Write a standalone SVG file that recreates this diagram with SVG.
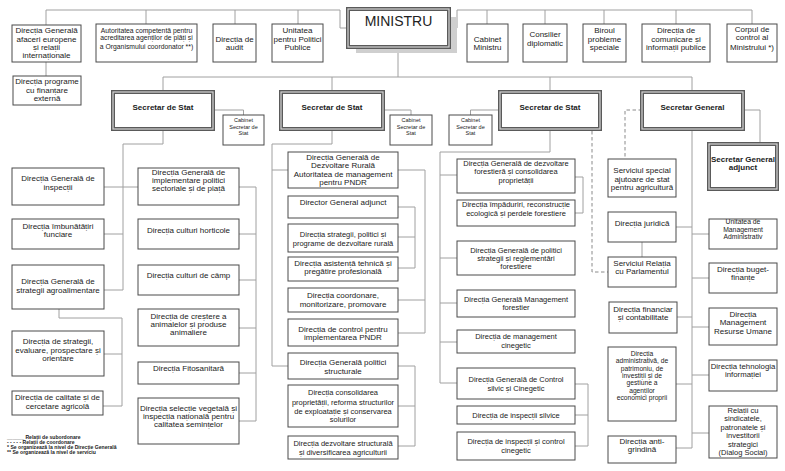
<svg xmlns="http://www.w3.org/2000/svg" width="785" height="471" viewBox="0 0 785 471">
<style>
.b{fill:#fff;stroke:#4a4a4a;stroke-width:1}
.k{fill:#fff;stroke:#5a5a5a;stroke-width:4}
.ki{fill:none;stroke:#d4d4d4;stroke-width:1.2}
.c path{fill:none;stroke:#a0a0a0;stroke-width:1}
.c path.d{stroke-dasharray:3.5 2.5;stroke:#8a8a8a}
text{font-family:"Liberation Sans",Arial,sans-serif;font-size:8px;fill:#222;text-anchor:middle}
.s{font-size:6.8px}
.m{font-size:7.5px}
.a{font-size:6.7px}
.xs{font-size:5.5px}
.h{font-weight:bold}
.lg{font-size:5.1px;font-weight:bold;text-anchor:start}
</style>
<rect width="785" height="471" fill="#fff"/>
<g id="connectors" class="c">
<path d="M46,10H340V28H348"/>
<path d="M46,10V25 M146,10V24 M235,10V24 M298,10V24 M46,62V76"/>
<path d="M457,28V10H752 M487,10V24 M545,10V24 M604,10V24 M676,10V24 M752,10V24"/>
<path d="M398,47V77 M163,77H692 M163,77V92 M332,77V92 M550,77V92 M692,77V92"/>
<path d="M163,129V144H123V290 M104,187H138 M104,234H123 M104,290H123 M213,110H243.5V115"/>
<path d="M239,187H256V421 M239,234H256 M239,280H256 M239,328H256 M239,373H256 M239,421H256"/>
<path d="M59,309V318H122V406 M104,354H122 M103,406H122"/>
<path d="M332,129V144H272V366 M272,170H288 M272,366H288 M383,110H411V115"/>
<path d="M398,170H425V333 M398,300H425 M398,333H425"/>
<path d="M398,207H415V268 M398,237H415 M398,268H415"/>
<path d="M398,366H415V446 M398,406H415 M398,446H415"/>
<path d="M550,129V152H440V383 M440,175H457 M440,258H457 M440,303H457 M440,342H457 M440,383H457 M500,110H470.5V115"/>
<path d="M575,177H583V213H575"/>
<path d="M575,384H588V446H575 M575,415H588"/>
<path d="M692,129V448 M676,227H692 M676,317H692 M676,384H692 M676,448H692 M692,234H709 M692,278H709 M692,327H709 M692,375H709 M692,433H709 M743,110H760V144 M642,242V257"/>
<path class="d" d="M642,110H625V159 M592,131V272H608"/>
</g>

<g id="n-dg-afaceri"><rect class="b" x="12" y="25" width="69" height="37"/><text x="46.5" y="33">Direcția Generală</text><text x="46.5" y="41.5">afaceri europene</text><text x="46.5" y="49.5">și relații</text><text x="46.5" y="57.5">internaționale</text></g>
<g id="n-programe"><rect class="b" x="13" y="76" width="68" height="29"/><text x="47" y="84">Direcția programe</text><text x="47" y="92.5">cu finanțare</text><text x="47" y="101">externă</text></g>
<g id="n-autoritatea"><rect class="b" x="96" y="24" width="101" height="38"/><text class="s" x="146.5" y="32.5">Autoritatea competentă pentru</text><text class="s" x="146.5" y="40">acreditarea agenților de plăți și</text><text class="s" x="146.5" y="48.5">a Organismului coordonator **)</text></g>
<g id="n-audit"><rect class="b" x="213" y="24" width="43" height="38"/><text x="234.5" y="41.5">Direcția de</text><text x="234.5" y="50">audit</text></g>
<g id="n-upp"><rect class="b" x="272" y="24" width="51" height="38"/><text x="297.5" y="33">Unitatea</text><text x="297.5" y="41.5">pentru Politici</text><text x="297.5" y="50">Publice</text></g>
<g id="n-ministru"><rect x="356" y="17" width="101" height="36" fill="#cfcfcf"/><rect class="k" x="348" y="9" width="101" height="38"/><rect class="ki" x="348" y="9" width="101" height="38"/><text x="398.5" y="26" style="font-size:14px">MINISTRU</text></g>
<g id="n-cabinet-ministru"><rect class="b" x="467" y="24" width="41" height="38"/><text x="487.5" y="41.5">Cabinet</text><text x="487.5" y="50">Ministru</text></g>
<g id="n-consilier"><rect class="b" x="523" y="24" width="44" height="38"/><text x="545" y="37">Consilier</text><text x="545" y="45.5">diplomatic</text></g>
<g id="n-biroul"><rect class="b" x="583" y="24" width="43" height="38"/><text x="604.5" y="33">Biroul</text><text x="604.5" y="41.5">probleme</text><text x="604.5" y="50">speciale</text></g>
<g id="n-comunicare"><rect class="b" x="642" y="24" width="68" height="38"/><text x="676" y="33">Direcția de</text><text x="676" y="41.5">comunicare și</text><text x="676" y="50">informații publice</text></g>
<g id="n-corpul"><rect class="b" x="727" y="24" width="50" height="38"/><text x="752" y="32">Corpul de</text><text x="752" y="40">control al</text><text x="752" y="50">Ministrului *)</text></g>

<g id="n-ss1"><rect class="k" x="113" y="92" width="100" height="37"/><rect class="ki" x="113" y="92" width="100" height="37"/><text class="h" x="163" y="110">Secretar de Stat</text></g>
<g id="n-ss2"><rect class="k" x="281" y="92" width="102" height="37"/><rect class="ki" x="281" y="92" width="102" height="37"/><text class="h" x="332" y="110">Secretar de Stat</text></g>
<g id="n-ss3"><rect class="k" x="500" y="92" width="100" height="37"/><rect class="ki" x="500" y="92" width="100" height="37"/><text class="h" x="550" y="110">Secretar de Stat</text></g>
<g id="n-sg"><rect class="k" x="642" y="92" width="101" height="37"/><rect class="ki" x="642" y="92" width="101" height="37"/><text class="h" x="692.5" y="110">Secretar General</text></g>
<g id="n-cab1"><rect class="b" x="223" y="115" width="41" height="30"/><text class="xs" x="243.5" y="122">Cabinet</text><text class="xs" x="243.5" y="128.5">Secretar de</text><text class="xs" x="243.5" y="134.5">Stat</text></g>
<g id="n-cab2"><rect class="b" x="390" y="115" width="42" height="30"/><text class="xs" x="411" y="122">Cabinet</text><text class="xs" x="411" y="128.5">Secretar de</text><text class="xs" x="411" y="134.5">Stat</text></g>
<g id="n-cab3"><rect class="b" x="449" y="115" width="43" height="30"/><text class="xs" x="470.5" y="122">Cabinet</text><text class="xs" x="470.5" y="128.5">Secretar de</text><text class="xs" x="470.5" y="134.5">Stat</text></g>
<g id="n-sga"><rect class="k" x="709" y="144" width="68" height="45"/><rect class="ki" x="709" y="144" width="68" height="45"/><text class="h" x="743" y="162">Secretar General</text><text class="h" x="743" y="169.5">adjunct</text></g>

<g id="n-dg-inspectii"><rect class="b" x="12" y="168" width="92" height="37"/><text x="58" y="181">Direcția Generală de</text><text x="58" y="189.5">inspecții</text></g>
<g id="n-imbunatatiri"><rect class="b" x="12" y="219" width="92" height="30"/><text x="58" y="228.5">Direcția îmbunătățiri</text><text x="58" y="237">funciare</text></g>
<g id="n-dg-strategii"><rect class="b" x="12" y="265" width="92" height="44"/><text x="58" y="284">Direcția Generală de</text><text x="58" y="292.5">strategii agroalimentare</text></g>
<g id="n-strategii-evaluare"><rect class="b" x="12" y="331" width="92" height="45"/><text x="58" y="344">Direcția de strategii,</text><text x="58" y="352.5">evaluare, prospectare și</text><text x="58" y="360.5">orientare</text></g>
<g id="n-calitate"><rect class="b" x="12" y="391" width="91" height="24"/><text x="57.5" y="400">Direcția de calitate și de</text><text x="57.5" y="408.5">cercetare agricolă</text></g>

<g id="n-dg-implementare"><rect class="b" x="138" y="168" width="101" height="37"/><text x="188.5" y="175">Direcția Generală de</text><text x="188.5" y="183">implementare politici</text><text x="188.5" y="191">sectoriale și de piață</text></g>
<g id="n-horticole"><rect class="b" x="138" y="219" width="101" height="30"/><text x="188.5" y="232.5">Direcția culturi horticole</text></g>
<g id="n-camp"><rect class="b" x="138" y="265" width="101" height="30"/><text x="188.5" y="278">Direcția culturi de câmp</text></g>
<g id="n-crestere"><rect class="b" x="138" y="309" width="101" height="37"/><text x="188.5" y="318.5">Direcția de creștere a</text><text x="188.5" y="327">animalelor și produse</text><text x="188.5" y="334.5">animaliere</text></g>
<g id="n-fitosanitara"><rect class="b" x="138" y="362" width="101" height="22"/><text x="188.5" y="371">Direcția Fitosanitară</text></g>
<g id="n-selectie"><rect class="b" x="138" y="398" width="101" height="46"/><text x="188.5" y="411">Direcția selecție vegetală și</text><text x="188.5" y="419">inspecția națională pentru</text><text x="188.5" y="427">calitatea semințelor</text></g>

<g id="n-dg-dr"><rect class="b" x="288" y="152" width="110" height="36"/><text x="343" y="159.5">Direcția Generală de</text><text x="343" y="168">Dezvoltare Rurală</text><text x="343" y="176.5">Autoritatea de management</text><text x="343" y="185">pentru PNDR</text></g>
<g id="n-dga"><rect class="b" x="288" y="196" width="110" height="22"/><text x="343" y="205">Director General adjunct</text></g>
<g id="n-strategii-dr"><rect class="b" x="288" y="224" width="110" height="28"/><text class="m" x="343" y="236.5">Direcția strategii, politici și</text><text class="m" x="343" y="246">programe de dezvoltare rurală</text></g>
<g id="n-asistenta"><rect class="b" x="288" y="257" width="110" height="24"/><text x="343" y="266">Direcția asistență tehnică și</text><text x="343" y="274">pregătire profesională</text></g>
<g id="n-coordonare"><rect class="b" x="288" y="288" width="110" height="24"/><text x="343" y="297.5">Direcția coordonare,</text><text x="343" y="306.5">monitorizare, promovare</text></g>
<g id="n-control-pndr"><rect class="b" x="288" y="319" width="110" height="27"/><text x="343" y="332">Direcția de control pentru</text><text x="343" y="339.5">implementarea PNDR</text></g>
<g id="n-dg-ps"><rect class="b" x="288" y="353" width="110" height="26"/><text x="343" y="365">Direcția Generală politici</text><text x="343" y="373.5">structurale</text></g>
<g id="n-consolidarea"><rect class="b" x="288" y="385" width="110" height="42"/><text class="m" x="343" y="395">Direcția consolidarea</text><text class="m" x="343" y="404.5">proprietății, reforma structurilor</text><text class="m" x="343" y="413.5">de exploatație și conservarea</text><text class="m" x="343" y="422">solurilor</text></g>
<g id="n-dezv-structurala"><rect class="b" x="288" y="436" width="110" height="23"/><text class="m" x="343" y="446">Direcția dezvoltare structurală</text><text class="m" x="343" y="455">și diversificarea agriculturii</text></g>

<g id="n-dg-forestiera"><rect class="b" x="457" y="159" width="118" height="34"/><text class="m" x="516" y="165.5">Direcția Generală de dezvoltare</text><text class="m" x="516" y="174">forestieră și consolidarea</text><text class="m" x="516" y="182.5">proprietății</text></g>
<g id="n-impaduriri"><rect class="b" x="457" y="200" width="118" height="26"/><text class="m" x="516" y="207">Direcția împăduriri, reconstrucție</text><text class="m" x="516" y="215.5">ecologică și perdele forestiere</text></g>
<g id="n-dg-pol-forest"><rect class="b" x="457" y="241" width="118" height="34"/><text class="m" x="516" y="252.5">Direcția Generală de politici</text><text class="m" x="516" y="261">strategii și reglementări</text><text class="m" x="516" y="269">forestiere</text></g>
<g id="n-dg-mgmt-forest"><rect class="b" x="457" y="290" width="118" height="27"/><text class="m" x="516" y="301.5">Direcția Generală Management</text><text class="m" x="516" y="310">forestier</text></g>
<g id="n-cinegetic"><rect class="b" x="457" y="330" width="118" height="23"/><text class="m" x="516" y="338.5">Direcția de management</text><text class="m" x="516" y="347.5">cinegetic</text></g>
<g id="n-dg-control"><rect class="b" x="457" y="368" width="118" height="31"/><text class="m" x="516" y="382">Direcția Generală de Control</text><text class="m" x="516" y="391">silvic și Cinegetic</text></g>
<g id="n-insp-silvice"><rect class="b" x="457" y="406" width="118" height="18"/><text class="m" x="516" y="417.5">Direcția de inspecții silvice</text></g>
<g id="n-insp-cinegetic"><rect class="b" x="457" y="432" width="118" height="28"/><text class="m" x="516" y="443.5">Direcția de inspecții și control</text><text class="m" x="516" y="453">cinegetic</text></g>

<g id="n-serviciul-special"><rect class="b" x="608" y="159" width="68" height="38"/><text x="642" y="172.5">Serviciul special</text><text x="642" y="181.5">ajutoare de stat</text><text x="642" y="190">pentru agricultură</text></g>
<g id="n-juridica"><rect class="b" x="608" y="212" width="68" height="30"/><text x="642" y="226">Direcția juridică</text></g>
<g id="n-parlament"><rect class="b" x="608" y="257" width="68" height="30"/><text x="642" y="266">Serviciul Relația</text><text x="642" y="274">cu Parlamentul</text></g>
<g id="n-financiar"><rect class="b" x="609" y="302" width="68" height="31"/><text x="643" y="311.5">Direcția financiar</text><text x="643" y="320">și contabilitate</text></g>
<g id="n-administrativa"><rect class="b" x="608" y="347" width="68" height="74"/><text class="a" x="642" y="356">Direcția</text><text class="a" x="642" y="363.3">administrativă, de</text><text class="a" x="642" y="370.6">patrimoniu, de</text><text class="a" x="642" y="377.9">investiții și de</text><text class="a" x="642" y="385.2">gestiune a</text><text class="a" x="642" y="392.5">agenților</text><text class="a" x="642" y="399.8">economici proprii</text></g>
<g id="n-antigrindina"><rect class="b" x="608" y="436" width="68" height="27"/><text x="642" y="443.5">Direcția anti-</text><text x="642" y="452">grindină</text></g>

<g id="n-uma"><rect class="b" x="709" y="219" width="68" height="30"/><text class="s" x="743" y="224">Unitatea de</text><text class="s" x="743" y="231.5">Management</text><text class="s" x="743" y="239">Administrativ</text></g>
<g id="n-buget"><rect class="b" x="709" y="263" width="68" height="30"/><text x="743" y="272">Direcția buget-</text><text x="743" y="280">finanțe</text></g>
<g id="n-resurse"><rect class="b" x="709" y="308" width="68" height="37"/><text x="743" y="317">Direcția</text><text x="743" y="325">Management</text><text x="743" y="333.5">Resurse Umane</text></g>
<g id="n-tehnologia"><rect class="b" x="709" y="360" width="68" height="31"/><text style="font-size:7.8px" x="743" y="368.5">Direcția tehnologia</text><text style="font-size:7.8px" x="743" y="377">informației</text></g>
<g id="n-dialog"><rect class="b" x="709" y="406" width="68" height="52"/><text class="m" x="743" y="412.5">Relații cu</text><text class="m" x="743" y="421">sindicatele,</text><text class="m" x="743" y="429.5">patronatele și</text><text class="m" x="743" y="438">investitorii</text><text class="m" x="743" y="446.5">strategici</text><text class="m" x="743" y="455">(Dialog Social)</text></g>

<g id="legend"><text class="lg" x="7" y="439">______ Relații de subordonare</text><text class="lg" x="7" y="444">- - - - - Relații de coordonare</text><text class="lg" x="7" y="449">* Se organizează la nivel de Direcție Generală</text><text class="lg" x="7" y="454">** Se organizează la nivel de serviciu</text></g>
</svg>
